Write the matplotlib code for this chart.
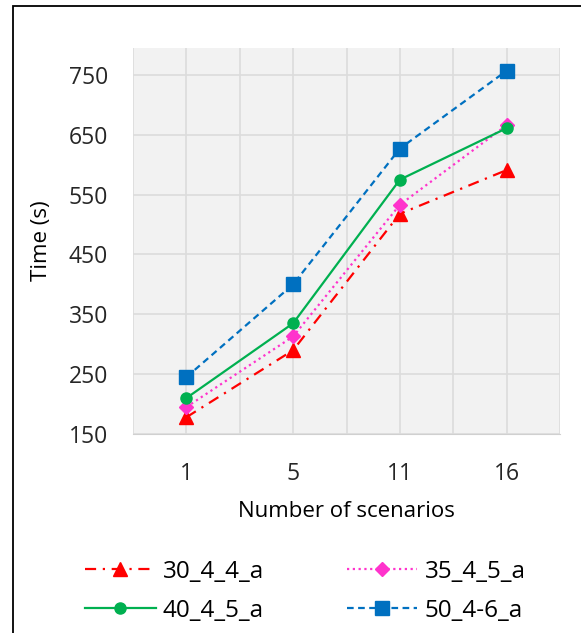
import matplotlib.pyplot as plt
from matplotlib.patches import Rectangle

plt.rcParams['font.family'] = ['Open Sans', 'DejaVu Sans']

scenarios = ["1", "5", "11", "16"]
series_names = ["30_4_4_a", "35_4_5_a", "40_4_5_a", "50_4-6_a"]
time_30_4_4 = [178, 290, 518, 591]
time_35_4_5 = [195, 313, 533, 666]
time_40_4_5 = [210, 335, 575, 661]
time_50_4_6 = [245, 400, 627, 757]
y_ticks = [150, 250, 350, 450, 550, 650, 750]

styles = [
    dict(color="#FF0000", linestyle=(0, (5, 3, 1, 3)), marker="^", markersize=10),
    dict(color="#FF33CC", linestyle=(0, (1, 1.6)), marker="D", markersize=7.5),
    dict(color="#00B050", linestyle="-", marker="o", markersize=8),
    dict(color="#0070C0", linestyle=(0, (3, 2)), marker="s", markersize=9.5),
]

fig = plt.figure(figsize=(5.81, 6.33), dpi=100)
ax = fig.add_axes([133 / 581, 1 - 434 / 633, 427 / 581, 386 / 633])

# frame line on the top and left of the picture
fig.patches.append(Rectangle((13 / 581, -0.1), 1.2, 1.1 - 5.5 / 633,
                             transform=fig.transFigure, fill=False,
                             edgecolor="black", linewidth=1.3))

x = list(range(len(scenarios)))
all_series = [time_30_4_4, time_35_4_5, time_40_4_5, time_50_4_6]
lines = []
for name, values, st in zip(series_names, all_series, styles):
    line, = ax.plot(x, values, label=name, linewidth=1.6, **st)
    lines.append(line)

ax.set_facecolor("#F2F2F2")
ax.set_xlim(-0.5, 3.5)
ax.set_ylim(150, 795)
ax.set_xticks(x)
ax.set_xticklabels(scenarios)
ax.set_xticks([-0.5, 0.5, 1.5, 2.5, 3.5], minor=True)
ax.set_yticks(y_ticks)
ax.grid(True, which="both", color="#DCDCDC", linewidth=1.2)
ax.set_axisbelow(True)
ax.tick_params(which="both", length=0, labelsize=16.5, colors="#262626")
ax.tick_params(axis="y", pad=18)
ax.tick_params(axis="x", pad=20)
for side in ["top", "right", "left"]:
    ax.spines[side].set_visible(False)
ax.spines["bottom"].set_color("#D0D0D0")

ax.set_xlabel("Number of scenarios", fontsize=16, labelpad=11)
ax.set_ylabel("Time (s)", fontsize=16, labelpad=12)

# legend rows: 30 | 35, then 40 | 50 (matplotlib fills column by column)
order = [0, 2, 1, 3]
ax.legend([lines[i] for i in order], [series_names[i] for i in order],
          loc="upper left", bbox_to_anchor=(-0.112, -0.326), ncol=2,
          frameon=False, fontsize=17.5, handlelength=2.9, columnspacing=3.4,
          labelspacing=0.62, handletextpad=0.3, borderpad=0, borderaxespad=0)

fig.savefig("out.png", dpi=100)
